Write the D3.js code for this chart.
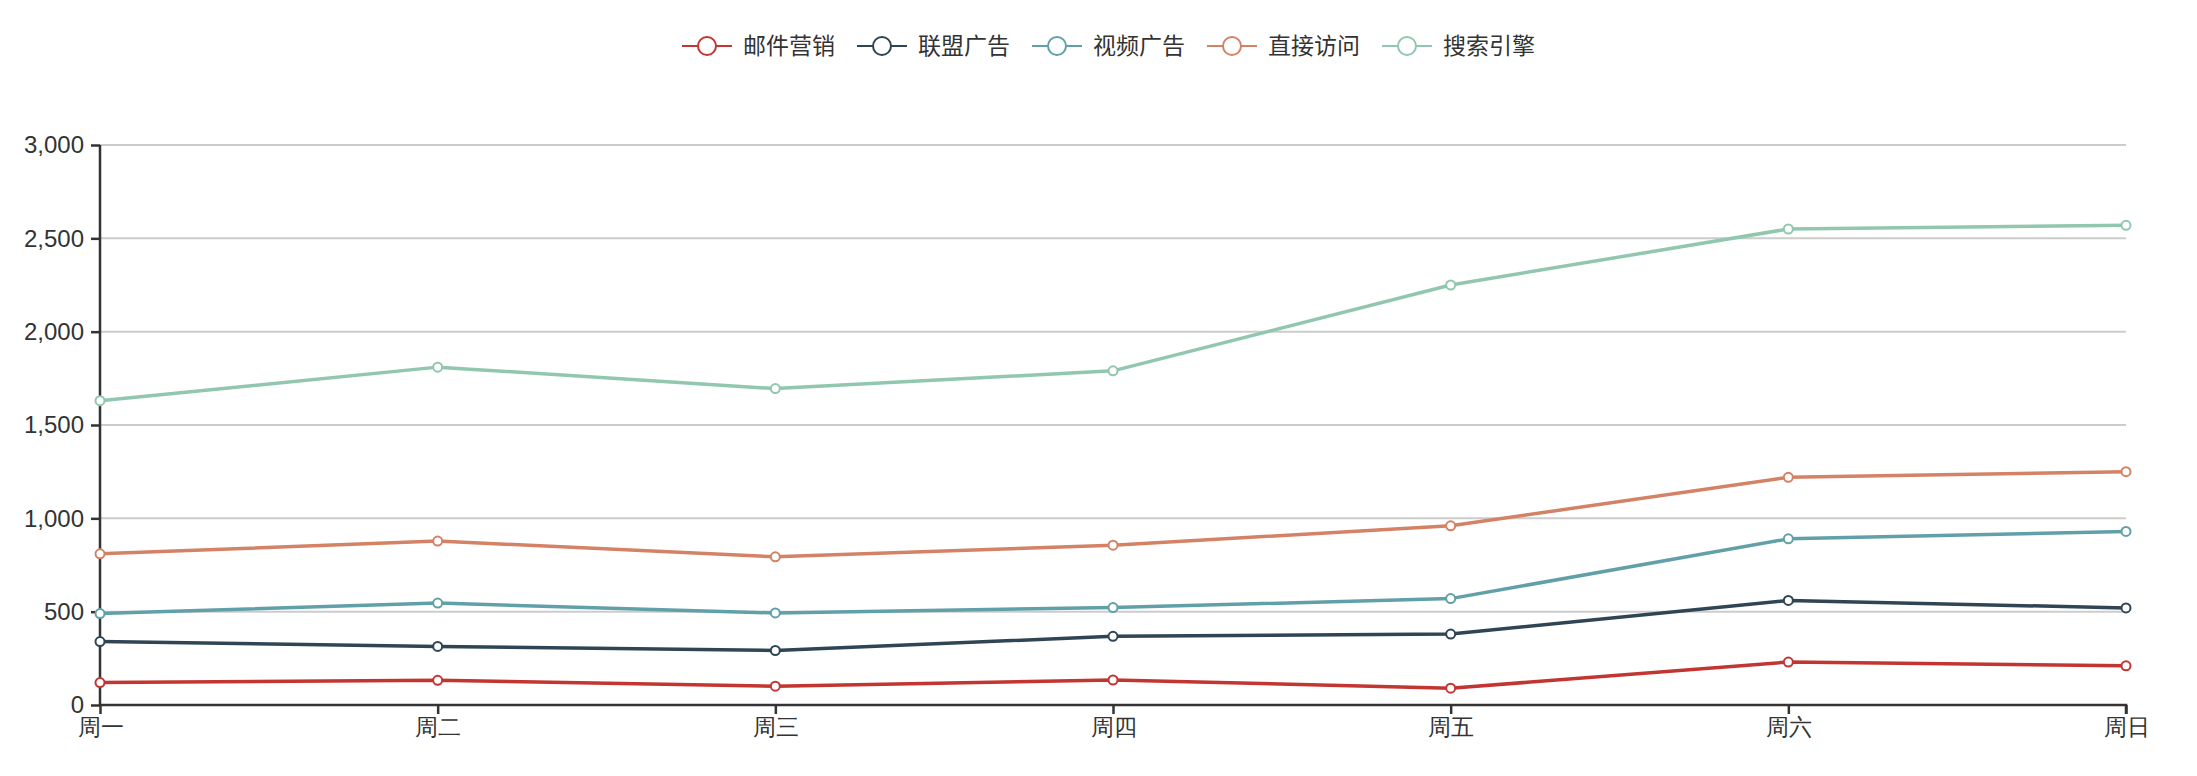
<!DOCTYPE html>
<html>
<head>
<meta charset="utf-8">
<script src="https://cdn.jsdelivr.net/npm/d3@7"></script>
<style>
  html, body { margin: 0; padding: 0; background: #fff; }
  svg { display: block; font-family: "Open Sans", "Noto Sans CJK SC", sans-serif; }
  .grid line { stroke: #ccc; stroke-width: 2; }
  .axis path, .axis line { stroke: #333; stroke-width: 2.5; }
  .axis text { fill: #333; }
  .legend text { fill: #333; }
</style>
</head>
<body>
<svg id="chart"></svg>
<script>
// categories and series (per series values, drawn stacked)
const days = ['周一', '周二', '周三', '周四', '周五', '周六', '周日'];
const seriesNames = ['邮件营销', '联盟广告', '视频广告', '直接访问', '搜索引擎'];
const mail   = [120, 132, 101, 134, 90, 230, 210];
const union  = [220, 182, 191, 234, 290, 330, 310];
const video  = [150, 232, 201, 154, 190, 330, 410];
const direct = [320, 332, 301, 334, 390, 330, 320];
const search = [820, 932, 901, 934, 1290, 1330, 1320];
const yTicks = [0, 500, 1000, 1500, 2000, 2500, 3000];
const colors = ['#c23531', '#2f4554', '#61a0a8', '#d48265', '#91c7ae'];

const W = 2197, H = 776;
const margin = {top: 145, right: 71, bottom: 71, left: 100};
const width = W - margin.left - margin.right;
const height = H - margin.top - margin.bottom;

const allSeries = [mail, union, video, direct, search];
const rows = days.map((d, i) => {
    let r = {day: d};
    seriesNames.forEach((n, k) => { r[n] = allSeries[k][i]; });
    return r;
});
const stacked = d3.stack().keys(seriesNames)(rows);

const svg = d3.select('#chart').attr('width', W).attr('height', H);
const chart = svg.append('g').attr('transform', 'translate(' + margin.left + ',' + margin.top + ')');

const xScale = d3.scalePoint().domain(days).range([0, width]);
const yScale = d3.scaleLinear().domain([0, 3000]).range([height, 0]);

// grid
chart.append('g').attr('class', 'grid')
    .selectAll('line').data(yTicks.slice(1)).enter()
    .append('line')
        .attr('x1', 0).attr('x2', width)
        .attr('y1', d => yScale(d)).attr('y2', d => yScale(d));

// axes
chart.append('g').attr('class', 'y axis')
    .call(d3.axisLeft(yScale).tickValues(yTicks).tickSize(9).tickPadding(7).tickFormat(d3.format(',')))
    .call(g => g.selectAll('text').style('font-size', '24px'));
chart.append('g').attr('class', 'x axis')
    .attr('transform', 'translate(0,' + height + ')')
    .call(d3.axisBottom(xScale).tickSize(9).tickPadding(5))
    .call(g => g.selectAll('text').style('font-size', '23px'));
chart.selectAll('.axis .domain').attr('d', function() {
    return d3.select(this.parentNode).classed('x')
        ? 'M0,0H' + width + 'V9'
        : 'M0,0V' + height;
});

// lines
const line = d3.line()
    .x(d => xScale(d.data.day))
    .y(d => yScale(d[1]));

const layers = chart.selectAll('.series').data(stacked).enter()
    .append('g').attr('class', 'series');
layers.append('path')
    .attr('fill', 'none')
    .attr('stroke', (d, i) => colors[i])
    .attr('stroke-width', 3.5)
    .attr('stroke-linejoin', 'round')
    .attr('d', line);
layers.each(function(s, i) {
    d3.select(this).selectAll('circle').data(s).enter()
        .append('circle')
            .attr('r', 4.5)
            .attr('cx', d => xScale(d.data.day))
            .attr('cy', d => yScale(d[1]))
            .attr('fill', '#fff')
            .attr('stroke', colors[i])
            .attr('stroke-width', 2);
});

// legend
const legend = svg.append('g').attr('class', 'legend').attr('transform', 'translate(682,46)');
let lx = 0;
seriesNames.forEach((name, i) => {
    const item = legend.append('g').attr('transform', 'translate(' + lx + ',0)');
    item.append('line').attr('x1', 0).attr('x2', 50).attr('y1', 0).attr('y2', 0)
        .attr('stroke', colors[i]).attr('stroke-width', 2);
    item.append('circle').attr('cx', 25).attr('cy', 0).attr('r', 9)
        .attr('fill', '#fff').attr('stroke', colors[i]).attr('stroke-width', 2);
    const t = item.append('text').attr('x', 61).attr('dy', '0.35em')
        .style('font-size', '23px').text(name);
    lx += 61 + t.node().getComputedTextLength() + 22;
});
</script>
</body>
</html>
